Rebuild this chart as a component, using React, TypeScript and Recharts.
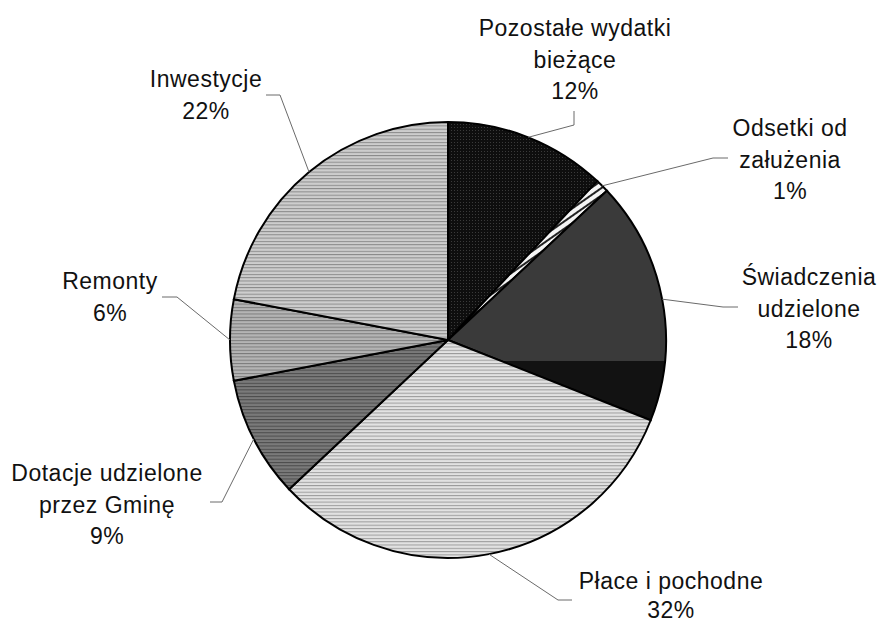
import React from "react";
import { PieChart, Pie, Cell } from "recharts";

const categories = [
  "Pozostałe wydatki bieżące",
  "Odsetki od załużenia",
  "Świadczenia udzielone",
  "Płace i pochodne",
  "Dotacje udzielone przez Gminę",
  "Remonty",
  "Inwestycje",
];
const values = [12, 1, 18, 32, 9, 6, 22];
const labelLines = [
  ["Pozostałe wydatki", "bieżące"],
  ["Odsetki od", "załużenia"],
  ["Świadczenia", "udzielone"],
  ["Płace i pochodne"],
  ["Dotacje udzielone", "przez Gminę"],
  ["Remonty"],
  ["Inwestycje"],
];

const fills = [
  "url(#pDots)",
  "url(#pDiag)",
  "url(#gSw)",
  "url(#pPlace)",
  "url(#pDot)",
  "url(#pRem)",
  "url(#pInw)",
];

// label layout: elbow point, end point, text centre x, first line centre y
const labelLayout = [
  { elbow: [574, 125], end: [574, 111], tx: 575, ty: 28, lh: 31.5 },
  { elbow: [713, 158], end: [728, 158], tx: 790, ty: 128, lh: 31.5 },
  { elbow: [723, 307], end: [738, 307], tx: 809, ty: 277, lh: 31.5 },
  { elbow: [558, 600], end: [572, 600], tx: 671, ty: 581, lh: 29 },
  { elbow: [222, 502], end: [210, 502], tx: 107, ty: 473, lh: 31.5 },
  { elbow: [177, 297], end: [162, 297], tx: 110, ty: 281, lh: 31.5 },
  { elbow: [280, 95], end: [266, 95], tx: 206, ty: 79, lh: 31.5 },
];

const data = categories.map((name, i) => ({ name, value: values[i] }));

const RAD = Math.PI / 180;

const renderLabel = (props: any) => {
  const { cx, cy, midAngle, outerRadius, index, value } = props;
  const sx = cx + outerRadius * Math.cos(-midAngle * RAD);
  const sy = cy + outerRadius * Math.sin(-midAngle * RAD);
  const lay = labelLayout[index];
  const lines = [...labelLines[index], `${value}%`];
  return (
    <g key={`lbl-${index}`}>
      <polyline
        points={`${sx},${sy} ${lay.elbow[0]},${lay.elbow[1]} ${lay.end[0]},${lay.end[1]}`}
        fill="none"
        stroke="#6a6a6a"
        strokeWidth={1}
      />
      {lines.map((t, k) => (
        <text
          key={k}
          x={lay.tx}
          y={lay.ty + k * lay.lh}
          textAnchor="middle"
          dominantBaseline="central"
          fontFamily="'Liberation Sans', Arial, sans-serif"
          fontSize={23}
          letterSpacing={0.5}
          fill="#111"
        >
          {t}
        </text>
      ))}
    </g>
  );
};

export default function App() {
  return (
    <div style={{ position: "absolute", left: 0, top: 0, width: 881, height: 622, background: "#fff" }}>
      <PieChart width={881} height={622} margin={{ top: 0, right: 0, bottom: 0, left: 0 }}>
        <defs>
          <pattern id="pDots" width="3" height="3" patternUnits="userSpaceOnUse">
            <rect width="3" height="3" fill="#0e0e0e" />
            <rect x="1" y="1" width="1" height="1" fill="#3a3a3a" />
          </pattern>
          <pattern id="pDiag" width="6" height="6" patternUnits="userSpaceOnUse" patternTransform="rotate(-35)">
            <rect width="6" height="6" fill="#f4f4f4" />
            <rect width="6" height="2" fill="#222" />
          </pattern>
          <linearGradient id="gSw" x1="0" y1="0" x2="0" y2="1">
            <stop offset="0" stopColor="#3a3a3a" />
            <stop offset="0.74" stopColor="#3a3a3a" />
            <stop offset="0.74" stopColor="#121212" />
            <stop offset="1" stopColor="#121212" />
          </linearGradient>
          <pattern id="pPlace" width="4" height="3.3" patternUnits="userSpaceOnUse">
            <rect width="4" height="3.3" fill="#e2e2e2" />
            <rect width="4" height="1" fill="#9a9a9a" />
          </pattern>
          <pattern id="pDot" width="4" height="3.3" patternUnits="userSpaceOnUse">
            <rect width="4" height="3.3" fill="#7a7a7a" />
            <rect width="4" height="1" fill="#4a4a4a" />
          </pattern>
          <pattern id="pRem" width="4" height="3.3" patternUnits="userSpaceOnUse">
            <rect width="4" height="3.3" fill="#b4b4b4" />
            <rect width="4" height="1" fill="#7a7a7a" />
          </pattern>
          <pattern id="pInw" width="4" height="3.3" patternUnits="userSpaceOnUse">
            <rect width="4" height="3.3" fill="#cdcdcd" />
            <rect width="4" height="1" fill="#8a8a8a" />
          </pattern>
        </defs>
        <Pie
          data={data}
          dataKey="value"
          nameKey="name"
          cx={448}
          cy={340}
          outerRadius={218}
          startAngle={90}
          endAngle={-270}
          stroke="#000"
          strokeWidth={2}
          label={renderLabel}
          labelLine={false}
          isAnimationActive={false}
        >
          {data.map((d, i) => (
            <Cell key={d.name} fill={fills[i]} />
          ))}
        </Pie>
      </PieChart>
    </div>
  );
}
